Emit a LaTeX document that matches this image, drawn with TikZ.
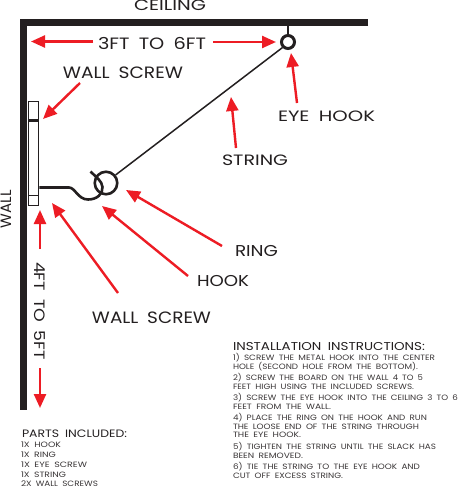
\documentclass[tikz,border=0pt]{standalone}
\usepackage{fontspec}
\usepackage{graphicx}
\usetikzlibrary{arrows.meta}
\setmainfont[WordSpace=1.8]{Poppins}
\definecolor{inkblack}{HTML}{231F20}
\definecolor{smallink}{HTML}{3A3637}
\definecolor{arrowred}{HTML}{ED1C24}
\tikzset{
  wallline/.style={draw=inkblack,line width=7.5pt,line cap=butt,line join=miter},
  hookline/.style={draw=inkblack,line width=2.6pt,line cap=butt},
  redarrow/.style={draw=arrowred,line width=2.4pt,-{Triangle[length=14pt,width=12pt]}},
  lbl/.style={inner sep=0pt,outer sep=0pt,anchor=west,text=inkblack},
  smalllbl/.style={lbl,text=smallink},
}
\newcommand{\capfit}[3]{\resizebox{#1pt}{#2pt}{\raisebox{0pt}[7pt][0pt]{#3}}}
\newcommand{\fitw}[2]{\resizebox{#1pt}{5.4pt}{\raisebox{0pt}[7pt][0pt]{#2}}}
\begin{document}
\begin{tikzpicture}[x=1pt,y=-1pt]
\useasboundingbox (0,0) rectangle (459,488);
\fill[white] (0,0) rectangle (459,488);
% wall + ceiling
\draw[wallline] (368,22.5) -- (23.5,22.5) -- (23.5,410);
% board
\node[draw=inkblack,fill=white,line width=1pt,minimum width=10.5pt,minimum height=104pt,inner sep=0pt] (board) at (33.5,153) {};
\coordinate (s1a) at (board.west |- 0,120.5);
\coordinate (s1b) at (board.east |- 0,120.5);
\coordinate (s2a) at (board.west |- 0,195.5);
\coordinate (s2b) at (board.east |- 0,195.5);
\draw[hookline] (s1a) -- (s1b);
\draw[inkblack,line width=1.8pt] (s2a) -- (s2b);
% eye hook
\node[circle,draw=inkblack,fill=white,line width=3pt,minimum size=13pt,inner sep=0pt] (eye) at (288,42) {};
\coordinate (ceil) at (288,24);
\draw[hookline] (ceil) -- (eye.north);
% ring
\node[circle,draw=inkblack,line width=2.6pt,minimum size=22.5pt,inner sep=0pt] (ring) at (106,183) {};
% string
\draw[inkblack,line width=1.5pt] (ring.40) -- (eye.225);
% hook
\coordinate (hookstart) at (board.east |- 0,187.5);
\coordinate (hookend) at (90.5,171.5);
\draw[hookline] (hookstart) -- (69,187.5) .. controls (75,187.5) and (78,199.5) .. (88,199.5)
  .. controls (97,199.5) and (103,194) .. (102.5,187) .. controls (102,181) and (96,177) .. (hookend);
% labels
\node[lbl] (ceiling) at (134,5.5) {\capfit{72}{10.5}{CEILING}};
\node[lbl] (dist) at (98,43.5) {\capfit{108}{11.5}{3FT TO 6FT}};
\node[lbl] (ws1) at (63,72.5) {\capfit{120}{11.5}{WALL SCREW}};
\node[lbl] (eyel) at (278,116.5) {\capfit{97}{10.5}{EYE HOOK}};
\node[lbl] (strl) at (222,160) {\capfit{66}{10.5}{STRING}};
\node[lbl] (ringl) at (235,251) {\capfit{43}{11}{RING}};
\node[lbl] (hookl) at (197,281) {\capfit{52}{11}{HOOK}};
\node[lbl] (ws2) at (92,318) {\capfit{119}{11.5}{WALL SCREW}};
\node[inner sep=0pt,rotate=90,text=inkblack] (walll) at (6,209) {\capfit{38}{10.5}{WALL}};
\node[inner sep=0pt,rotate=-90,text=inkblack] (heightl) at (40,311) {\capfit{98}{10.5}{4FT TO 5FT}};
% arrows
\coordinate (a1) at (93,41.5); \coordinate (a1t) at (31,41.5);
\coordinate (a2) at (213,42); \coordinate (a2t) at (276,42);
\coordinate (a3) at (80,83); \coordinate (a3t) at (43,119);
\coordinate (a4) at (297,103); \coordinate (a4t) at (291,53);
\coordinate (a5) at (236,148); \coordinate (a5t) at (231,97);
\coordinate (a6) at (222,246); \coordinate (a6t) at (126,190);
\coordinate (a7) at (188,276); \coordinate (a7t) at (102,206);
\coordinate (a8) at (118,293); \coordinate (a8t) at (52,203);
\coordinate (a9) at (40,249); \coordinate (a9t) at (40,210);
\coordinate (a10) at (40,368); \coordinate (a10t) at (40,408);
\foreach \n in {1,...,10}{\draw[redarrow] (a\n) -- (a\n t);}
% parts
\node[lbl] (pt) at (22,434) {\capfit{105}{7.5}{PARTS INCLUDED:}};
\node[smalllbl] (p1) at (21,445) {\fitw{40}{1X HOOK}};
\node[smalllbl] (p2) at (21,455) {\fitw{35}{1X RING}};
\node[smalllbl] (p3) at (21,465) {\fitw{66}{1X EYE SCREW}};
\node[smalllbl] (p4) at (21,474.5) {\fitw{45}{1X STRING}};
\node[smalllbl] (p5) at (21,483.5) {\fitw{77}{2X WALL SCREWS}};
% instructions
\node[lbl] (it) at (233,346) {\capfit{192}{8}{INSTALLATION INSTRUCTIONS:}};
\node[smalllbl] (i1) at (233,358) {\fitw{202}{1) SCREW THE METAL HOOK INTO THE CENTER}};
\node[smalllbl] (i2) at (233,367) {\fitw{185}{HOLE (SECOND HOLE FROM THE BOTTOM).}};
\node[smalllbl] (i3) at (233,378) {\fitw{190}{2) SCREW THE BOARD ON THE WALL 4 TO 5}};
\node[smalllbl] (i4) at (233,387) {\fitw{181}{FEET HIGH USING THE INCLUDED SCREWS.}};
\node[smalllbl] (i5) at (233,398) {\fitw{225}{3) SCREW THE EYE HOOK INTO THE CEILING 3 TO 6}};
\node[smalllbl] (i6) at (233,407) {\fitw{98}{FEET FROM THE WALL.}};
\node[smalllbl] (i7) at (233,418) {\fitw{194}{4) PLACE THE RING ON THE HOOK AND RUN}};
\node[smalllbl] (i8) at (233,427) {\fitw{186}{THE LOOSE END OF THE STRING THROUGH}};
\node[smalllbl] (i9) at (233,435) {\fitw{68}{THE EYE HOOK.}};
\node[smalllbl] (i10) at (233,447) {\fitw{203}{5) TIGHTEN THE STRING UNTIL THE SLACK HAS}};
\node[smalllbl] (i11) at (233,456) {\fitw{70}{BEEN REMOVED.}};
\node[smalllbl] (i12) at (233,467) {\fitw{187}{6) TIE THE STRING TO THE EYE HOOK AND}};
\node[smalllbl] (i13) at (233,476) {\fitw{110}{CUT OFF EXCESS STRING.}};
\end{tikzpicture}
\end{document}
